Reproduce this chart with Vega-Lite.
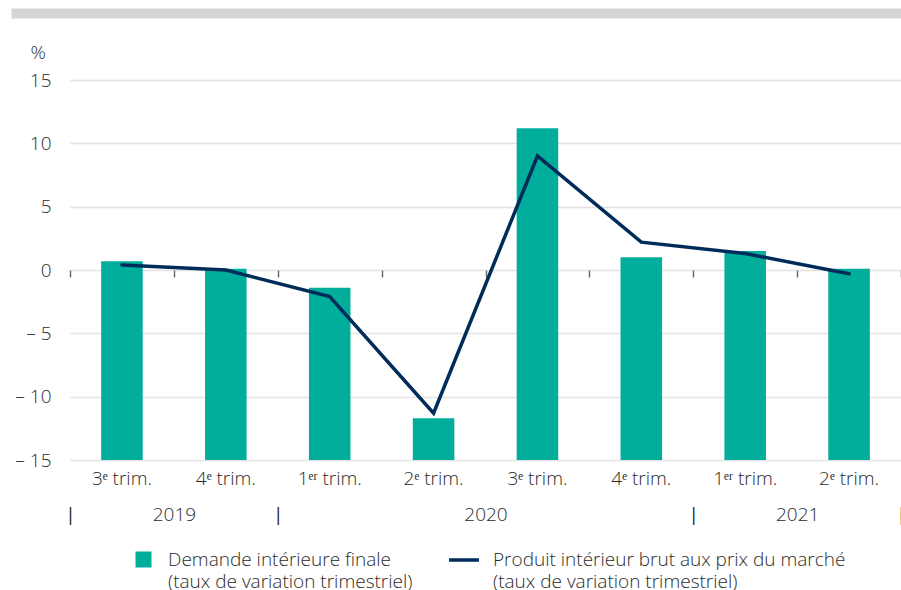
{
  "$schema": "https://vega.github.io/schema/vega-lite/v6.json",
  "width": 831,
  "height": 380,
  "padding": {"left": 70, "top": 80, "right": 0, "bottom": 130},
  "autosize": {"type": "none"},
  "background": "white",
  "config": {
    "font": "Open Sans",
    "view": {"stroke": null},
    "axis": {
      "labelFont": "Open Sans",
      "labelFontSize": 19,
      "labelFontWeight": 300,
      "labelColor": "#2b2b2b",
      "titleFont": "Open Sans",
      "titleFontSize": 19,
      "titleFontWeight": 300,
      "titleColor": "#2b2b2b"
    },
    "legend": {
      "labelFont": "Open Sans",
      "labelFontSize": 19,
      "labelFontWeight": 300,
      "labelColor": "#2b2b2b",
      "labelLimit": 600,
      "padding": 0
    }
  },
  "datasets": {
    "trimestres": [
      {"periode": "2019-T3", "demande": 0.7, "pib": 0.4},
      {"periode": "2019-T4", "demande": 0.1, "pib": 0.0},
      {"periode": "2020-T1", "demande": -1.4, "pib": -2.1},
      {"periode": "2020-T2", "demande": -11.7, "pib": -11.3},
      {"periode": "2020-T3", "demande": 11.2, "pib": 9.0},
      {"periode": "2020-T4", "demande": 1.0, "pib": 2.2},
      {"periode": "2021-T1", "demande": 1.5, "pib": 1.3},
      {"periode": "2021-T2", "demande": 0.1, "pib": -0.3}
    ]
  },
  "resolve": {"scale": {"x": "independent"}, "axis": {"x": "independent"}},
  "layer": [
    {
      "data": {"name": "trimestres"},
      "encoding": {
        "x": {
          "field": "periode",
          "type": "ordinal",
          "sort": null,
          "scale": {"paddingInner": 0.6, "paddingOuter": 0.3},
          "axis": {
            "title": null,
            "domain": false,
            "ticks": false,
            "labelAngle": 0,
            "labelPadding": 9,
            "labelExpr": "(slice(datum.value, 6) == '1' ? '1ᵉʳ' : slice(datum.value, 6) + 'ᵉ') + ' trim.'"
          }
        }
      },
      "layer": [
        {
          "mark": {"type": "bar", "color": "#00ae9b"},
          "encoding": {
            "y": {
              "field": "demande",
              "type": "quantitative",
              "scale": {"domain": [-15, 15], "nice": false, "zero": false},
              "axis": {
                "values": [-15, -10, -5, 0, 5, 10, 15],
                "domain": false,
                "ticks": false,
                "grid": true,
                "gridColor": "#e3e3e3",
                "gridWidth": 1.5,
                "labelPadding": 19,
                "labelExpr": "datum.value < 0 ? '– ' + abs(datum.value) : datum.label",
                "title": "%",
                "titleAngle": 0,
                "titleAlign": "left",
                "titleBaseline": "alphabetic",
                "titleX": -40,
                "titleY": -22
              }
            },
            "y2": {"datum": -15},
            "fill": {
              "datum": "Demande intérieure finale",
              "scale": {"range": ["#00ae9b"]},
              "legend": {
                "title": null,
                "orient": "none",
                "legendX": 64,
                "legendY": 470,
                "symbolType": "square",
                "symbolSize": 256,
                "symbolOpacity": 1,
                "labelOffset": 15,
                "labelExpr": "[datum.label, '(taux de variation trimestriel)']",
                "encode": {"labels": {"update": {"lineHeight": {"value": 22}}}}
              }
            }
          }
        },
        {
          "mark": {"type": "line", "strokeWidth": 3.5, "strokeCap": "round", "strokeJoin": "miter"},
          "encoding": {
            "y": {"field": "pib", "type": "quantitative"},
            "stroke": {
              "datum": "Produit intérieur brut aux prix du marché",
              "scale": {"range": ["#002c5a"]},
              "legend": {
                "title": null,
                "orient": "none",
                "legendX": 377,
                "legendY": 463,
                "symbolType": "stroke",
                "symbolSize": 900,
                "symbolStrokeWidth": 3.5,
                "labelOffset": 12,
                "labelExpr": "[datum.label, '(taux de variation trimestriel)']",
                "encode": {"labels": {"update": {"lineHeight": {"value": 22}}}}
              }
            }
          }
        }
      ]
    },
    {
      "mark": {"type": "rule", "color": "#7a7a7a", "strokeWidth": 1.5},
      "encoding": {
        "x": {
          "datum": 0,
          "type": "quantitative",
          "scale": {"domain": [0, 8], "nice": false, "zero": false},
          "axis": {
            "title": null,
            "orient": "bottom",
            "offset": -190,
            "values": [0, 1, 2, 3, 4, 5, 6, 7, 8],
            "domain": false,
            "ticks": true,
            "tickSize": 7,
            "tickWidth": 1.5,
            "tickColor": "#6e6e6e",
            "labels": false,
            "grid": false
          }
        },
        "x2": {"datum": 8},
        "y": {"datum": 0}
      }
    },
    {
      "mark": {"type": "rule", "color": "#7a7a7a", "strokeWidth": 1.5, "opacity": 0},
      "encoding": {
        "x": {
          "datum": 0,
          "type": "quantitative",
          "scale": {"domain": [0, 8], "nice": false, "zero": false},
          "axis": {
            "title": null,
            "orient": "bottom",
            "offset": 45,
            "values": [0, 1, 2, 4, 6, 7, 8],
            "domain": false,
            "ticks": false,
            "grid": false,
            "labelPadding": 0,
            "labelFlush": false,
            "labelBound": false,
            "labelOverlap": false,
            "labelColor": {"condition": {"test": "datum.value == 1 || datum.value == 4 || datum.value == 7", "value": "#2b2b2b"}, "value": "#1a1a1a"},
            "labelFontWeight": {"condition": {"test": "datum.value == 1 || datum.value == 4 || datum.value == 7", "value": 300}, "value": 400},
            "labelExpr": "datum.value == 1 ? '2019' : datum.value == 4 ? '2020' : datum.value == 7 ? '2021' : '|'"
          }
        },
        "x2": {"datum": 8},
        "y": {"datum": 0}
      }
    },
    {
      "mark": {"type": "rule", "color": "#d5d5d5", "strokeWidth": 10, "opacity": 0},
      "encoding": {
        "x": {
          "datum": 0,
          "type": "quantitative",
          "scale": {"domain": [0, 1], "range": [-59, 831], "nice": false, "zero": false},
          "axis": {
            "title": null,
            "orient": "top",
            "offset": 67,
            "domain": true,
            "domainColor": "#d5d5d5",
            "domainWidth": 10,
            "ticks": false,
            "labels": false,
            "grid": false
          }
        },
        "x2": {"datum": 1},
        "y": {"datum": 0}
      }
    }
  ]
}
